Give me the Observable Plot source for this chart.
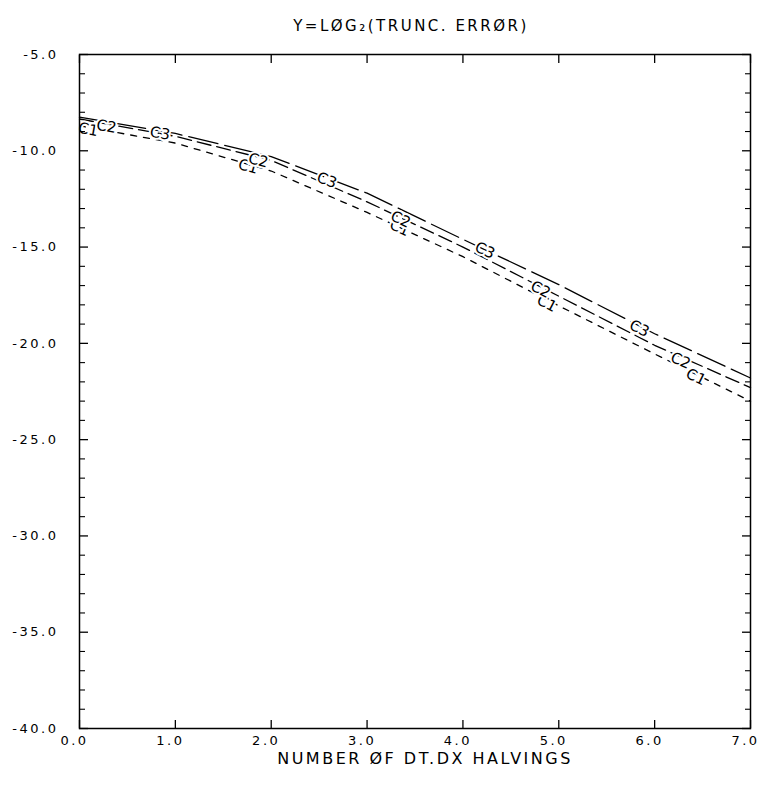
<!DOCTYPE html>
<html>
<head>
<meta charset="utf-8">
<script src="https://cdn.jsdelivr.net/npm/d3@7"></script>
<script src="https://cdn.jsdelivr.net/npm/@observablehq/plot@0.6"></script>
<style>
  html, body { margin: 0; padding: 0; background: #fff; }
  #chart svg text { letter-spacing: 2.5px; }
  #chart svg g.curve-labels text { letter-spacing: 0px; }
</style>
</head>
<body>
<div id="chart"></div>
<script>
// ---- data ----
const halvings = [0, 1, 2, 3, 4, 5, 6, 7];
const c1Values = [-8.7, -9.6, -11.05, -13.2, -15.5, -18.05, -20.55, -23.0];
const c2Values = [-8.35, -9.25, -10.5, -12.65, -15.0, -17.55, -20.1, -22.3];
const c3Values = [-8.25, -9.1, -10.3, -12.2, -14.6, -16.95, -19.5, -21.8];

const xTickValues = [0, 1, 2, 3, 4, 5, 6, 7];
const yTickValues = [-5, -10, -15, -20, -25, -30, -35, -40];
const yMinorValues = [-6, -7, -8, -9, -11, -12, -13, -14, -16, -17, -18, -19,
  -21, -22, -23, -24, -26, -27, -28, -29, -31, -32, -33, -34, -36, -37, -38, -39];

const labelSeries = ["C1", "C1", "C1", "C1", "C1",
                     "C2", "C2", "C2", "C2", "C2",
                     "C3", "C3", "C3", "C3"];
const labelX = [0.09, 1.76, 3.34, 4.875, 6.43,
                0.28, 1.865, 3.35, 4.81, 6.27,
                0.84, 2.58, 4.23, 5.84];
const labelY = [-8.9, -10.82, -14.0, -17.93, -21.75,
                -8.74, -10.5, -13.57, -17.2, -20.9,
                -9.1, -11.54, -15.18, -19.23];

const titleText = "Y=LØG₂(TRUNC. ERRØR)";
const xLabelText = "NUMBER ØF DT.DX HALVINGS";

// ---- layout ----
const W = 764, H = 786;
const mL = 79, mR = 14, mT = 54, mB = 58;
const plotW = W - mL - mR, plotH = H - mT - mB;

const seriesValues = {C1: c1Values, C2: c2Values, C3: c3Values};
const rows = (name) => halvings.map((x, i) => ({x, y: seriesValues[name][i]}));
const labels = labelSeries.map((s, i) => ({series: s, x: labelX[i], y: labelY[i]}));

function slopeAt(name, x) {
  const v = seriesValues[name];
  const i = Math.max(0, Math.min(v.length - 2, Math.floor(x)));
  return v[i + 1] - v[i];
}
const pxPerX = plotW / 7, pxPerY = plotH / 35;

const fmt = d => d.toFixed(1);

const chart = Plot.plot({
  width: W,
  height: H,
  marginLeft: mL,
  marginRight: mR,
  marginTop: mT,
  marginBottom: mB,
  style: {fontFamily: "DejaVu Sans", fontSize: "13px", color: "#000", background: "#fff"},
  x: {domain: [0, 7], axis: null},
  y: {domain: [-40, -5], axis: null},
  marks: [
    // curves
    Plot.line(rows("C1"), {x: "x", y: "y", stroke: "#000", strokeWidth: 1.3, strokeDasharray: "6,7"}),
    Plot.line(rows("C2"), {x: "x", y: "y", stroke: "#000", strokeWidth: 1.3, strokeDasharray: "14,6"}),
    Plot.line(rows("C3"), {x: "x", y: "y", stroke: "#000", strokeWidth: 1.3, strokeDasharray: "30,7"}),
    // curve labels
    Plot.text(labels, {
      x: "x", y: "y", text: "series",
      rotate: d => Math.atan(-slopeAt(d.series, d.x) * pxPerY / pxPerX) * 180 / Math.PI,
      fill: "#000", stroke: "#fff", strokeWidth: 4, paintOrder: "stroke",
      fontSize: 15, fontFamily: "DejaVu Sans", className: "curve-labels"
    }),
    // frame
    Plot.frame({stroke: "#000", strokeWidth: 1.5}),
    // y ticks (inward), left and right
    Plot.axisY(yTickValues, {anchor: "left", tickSize: -9, tickFormat: () => "", label: null, strokeWidth: 1.3}),
    Plot.axisY(yTickValues, {anchor: "right", tickSize: -9, tickFormat: () => "", label: null, strokeWidth: 1.3}),
    Plot.axisY(yMinorValues, {anchor: "left", tickSize: -6, tickFormat: () => "", label: null, strokeWidth: 1.1}),
    Plot.axisY(yMinorValues, {anchor: "right", tickSize: -6, tickFormat: () => "", label: null, strokeWidth: 1.1}),
    // y labels
    Plot.axisY(yTickValues, {anchor: "left", tickSize: 0, tickPadding: 21, tickFormat: fmt, label: null, fontSize: 13}),
    // x ticks (inward), bottom and top
    Plot.axisX(xTickValues, {anchor: "bottom", tickSize: -8, tickFormat: () => "", label: null, strokeWidth: 1.3}),
    Plot.axisX(xTickValues, {anchor: "top", tickSize: -8, tickFormat: () => "", label: null, strokeWidth: 1.3}),
    // x labels
    Plot.axisX(xTickValues, {anchor: "bottom", tickSize: 0, tickPadding: 7, dx: -5, tickFormat: fmt, label: null, fontSize: 13}),
    // title and x label
    Plot.text([titleText], {frameAnchor: "top", dy: -34, dx: -4, text: d => d, fontSize: 15, fill: "#000"}),
    Plot.text([xLabelText], {frameAnchor: "bottom", dy: 35, dx: 10, text: d => d, fontSize: 16, fill: "#000"})
  ]
});

document.getElementById("chart").appendChild(chart);
</script>
</body>
</html>
